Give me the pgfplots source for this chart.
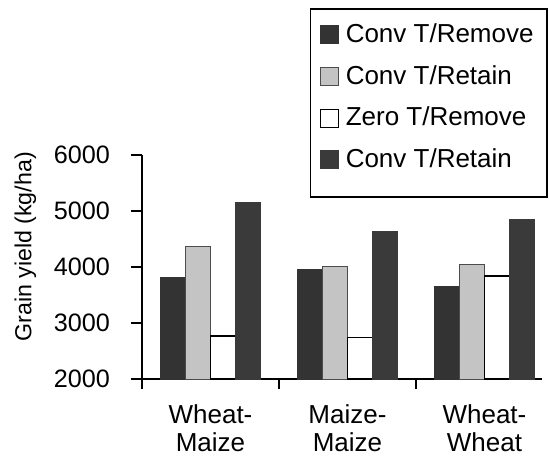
\documentclass[border=0pt]{standalone}
\usepackage{pgfplots}
\pgfplotsset{compat=1.18}
\usepackage{fontspec}
\setmainfont{Liberation Sans}
\definecolor{dk}{HTML}{333333}
\definecolor{dk2}{HTML}{3A3A3A}
\definecolor{lt}{HTML}{C4C4C4}
\begin{document}
\begin{tikzpicture}
\path[use as bounding box] (-71pt,-42pt) rectangle (203.5pt,189.5pt);
\begin{axis}[
  scale only axis,
  width=200pt, height=112pt,
  at={(0,0)}, anchor=south west,
  xmin=-0.5, xmax=2.42,
  ymin=2000, ymax=6000,
  ytick={2000,3000,4000,5000,6000},
  axis x line=bottom, axis y line=left,
  axis line style={-, line width=0.8pt},
  tick align=outside,
  tick style={line width=0.8pt, black},
  major tick length=5.5pt,
  xtick={0,1,2},
  xticklabels={{Wheat-\\Maize},{Maize-\\Maize},{Wheat-\\Wheat}},
  x tick label style={align=center, font=\fontsize{13}{14}\selectfont, yshift=-4pt},
  x tick style={draw=none},
  extra x ticks={-0.5,0.5,1.5},
  extra x tick labels={},
  extra x tick style={x tick style={draw=black, line width=0.8pt}, major tick length=5pt},
  yticklabel style={font=\fontsize{12.6}{15}\selectfont, xshift=-7pt},
  /pgf/number format/assume math mode=true,
  /pgf/number format/1000 sep={},
  ylabel={Grain yield (kg/ha)},
  ylabel style={font=\fontsize{11.6}{14}\selectfont, at={(ticklabel cs:0.59)}, yshift=2pt},
  ybar=0pt,
  bar width=12.5pt,
  legend style={name=leg, at={(1,1)}, anchor=north east, xshift=2.5pt, yshift=73pt,
    draw=none, row sep=6pt, column sep=1.5pt, inner ysep=5pt, inner xsep=4.5pt,
    font=\fontsize{13}{15}\selectfont, cells={anchor=west}},
  legend image code/.code={\draw[#1, line width=0.5pt] (0pt,-4.5pt) rectangle (9pt,4.5pt);},
  legend cell align=left,
]
\addplot[fill=dk, draw=dk, line width=0.5pt] coordinates {(0,3810) (1,3960) (2,3650)};
\addplot[fill=lt, draw=black!70, line width=0.5pt] coordinates {(0,4360) (1,4010) (2,4040)};
\addplot[fill=white, draw=black, line width=0.7pt] coordinates {(0,2770) (1,2740) (2,3840)};
\addplot[fill=dk2, draw=dk2, line width=0.5pt] coordinates {(0,5150) (1,4640) (2,4850)};
\legend{Conv T/Remove, Conv T/Retain, Zero T/Remove, Conv T/Retain}
\end{axis}
\draw[line width=0.8pt] (leg.north west) rectangle ([yshift=-6pt]leg.south east);
\end{tikzpicture}
\end{document}
